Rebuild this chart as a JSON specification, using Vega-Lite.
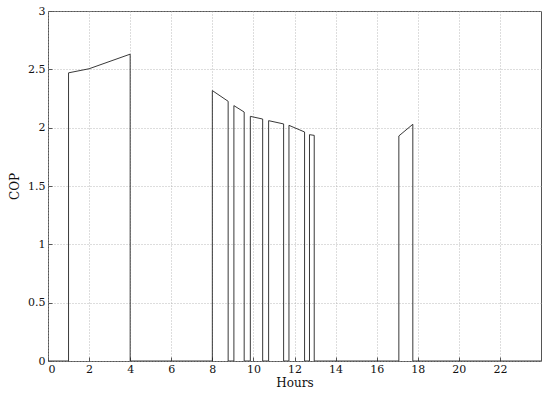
{
  "$schema": "https://vega.github.io/schema/vega-lite/v6.json",
  "autosize": "none",
  "padding": {"left": 48, "top": 11, "right": 9, "bottom": 35},
  "width": 493,
  "height": 350,
  "background": "white",
  "config": {
    "view": {"stroke": "#555", "strokeWidth": 1},
    "font": "DejaVu Serif",
    "axis": {
      "labelFont": "DejaVu Serif",
      "titleFont": "DejaVu Serif",
      "labelFontSize": 11,
      "titleFontSize": 12,
      "titleFontWeight": "normal",
      "labelColor": "#111",
      "titleColor": "#111",
      "gridColor": "#aaa",
      "gridDash": [1, 2],
      "gridWidth": 0.8,
      "domain": false,
      "tickColor": "#555",
      "tickSize": -4
    }
  },
  "data": {
    "values": [
      {"i": 0, "h": 0, "cop": 0},
      {"i": 1, "h": 1.0, "cop": 0},
      {"i": 2, "h": 1.0, "cop": 2.47},
      {"i": 3, "h": 2.0, "cop": 2.505},
      {"i": 4, "h": 4.0, "cop": 2.63},
      {"i": 5, "h": 4.0, "cop": 0},
      {"i": 6, "h": 8.0, "cop": 0},
      {"i": 7, "h": 8.0, "cop": 2.318},
      {"i": 8, "h": 8.77, "cop": 2.226},
      {"i": 9, "h": 8.77, "cop": 0},
      {"i": 10, "h": 9.05, "cop": 0},
      {"i": 11, "h": 9.05, "cop": 2.189},
      {"i": 12, "h": 9.55, "cop": 2.134},
      {"i": 13, "h": 9.55, "cop": 0},
      {"i": 14, "h": 9.85, "cop": 0},
      {"i": 15, "h": 9.85, "cop": 2.097},
      {"i": 16, "h": 10.45, "cop": 2.074},
      {"i": 17, "h": 10.45, "cop": 0},
      {"i": 18, "h": 10.74, "cop": 0},
      {"i": 19, "h": 10.74, "cop": 2.06},
      {"i": 20, "h": 11.47, "cop": 2.032},
      {"i": 21, "h": 11.47, "cop": 0},
      {"i": 22, "h": 11.73, "cop": 0},
      {"i": 23, "h": 11.73, "cop": 2.02},
      {"i": 24, "h": 12.49, "cop": 1.963},
      {"i": 25, "h": 12.49, "cop": 0},
      {"i": 26, "h": 12.73, "cop": 0},
      {"i": 27, "h": 12.73, "cop": 1.94},
      {"i": 28, "h": 12.96, "cop": 1.934},
      {"i": 29, "h": 12.96, "cop": 0},
      {"i": 30, "h": 17.08, "cop": 0},
      {"i": 31, "h": 17.08, "cop": 1.929},
      {"i": 32, "h": 17.76, "cop": 2.029},
      {"i": 33, "h": 17.76, "cop": 0},
      {"i": 34, "h": 24, "cop": 0}
    ]
  },
  "mark": {"type": "line", "color": "#222", "strokeWidth": 0.9, "clip": true},
  "encoding": {
    "x": {
      "field": "h",
      "type": "quantitative",
      "scale": {"domain": [0, 24], "nice": false},
      "axis": {"title": "Hours", "values": [0, 2, 4, 6, 8, 10, 12, 14, 16, 18, 20, 22], "labelPadding": 6, "titlePadding": 3}
    },
    "y": {
      "field": "cop",
      "type": "quantitative",
      "scale": {"domain": [0, 3], "nice": false},
      "axis": {"title": "COP", "values": [0, 0.5, 1, 1.5, 2, 2.5, 3], "format": "~g", "labelPadding": 7, "titlePadding": 6}
    },
    "order": {"field": "i", "type": "quantitative"}
  }
}
